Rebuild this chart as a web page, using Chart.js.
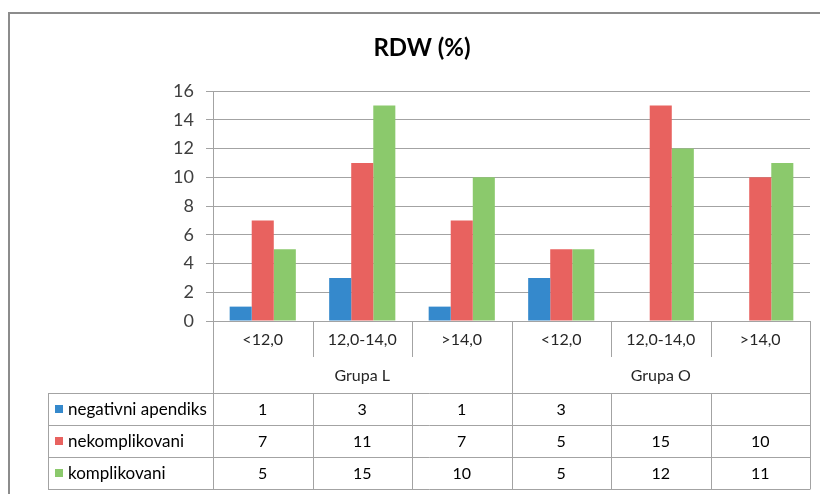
<!DOCTYPE html>
<html>
<head>
<meta charset="utf-8">
<title>RDW (%)</title>
<script src="https://cdn.jsdelivr.net/npm/chart.js@4/dist/chart.umd.min.js"></script>
<style>
  html, body { margin: 0; padding: 0; background: #fff; }
  #wrap { width: 820px; height: 494px; position: relative; }
</style>
</head>
<body>
<div id="wrap"><canvas id="c" width="820" height="494"></canvas></div>
<script>
// RDW ranges, grouped by patient group
const categories = ['<12,0', '12,0-14,0', '>14,0', '<12,0', '12,0-14,0', '>14,0'];
const groups = ['Grupa L', 'Grupa O'];
const groupSize = 3;

// Counts per series (null = no value)
const negativniApendiks = [1, 3, 1, 3, null, null];
const nekomplikovani = [7, 11, 7, 5, 15, 10];
const komplikovani = [5, 15, 10, 5, 12, 11];

const seriesNames = ['negativni apendiks', 'nekomplikovani', 'komplikovani'];
const seriesColors = ['#3589cc', '#e8625f', '#8bc96c'];

const yTicks = [0, 2, 4, 6, 8, 10, 12, 14, 16];
const chartTitle = 'RDW (%)';

const FONT = 'Lato, "Liberation Sans", sans-serif';
const LINE = '#a3a3a3';

// White page, the outer chart frame and the title centred in the frame
const framePlugin = {
  id: 'frame',
  beforeDraw(chart) {
    const ctx = chart.ctx;
    ctx.save();
    ctx.fillStyle = '#fff';
    ctx.fillRect(0, 0, chart.width, chart.height);
    ctx.strokeStyle = '#8c8c8c';
    ctx.lineWidth = 2;
    ctx.strokeRect(9, 13, chart.width + 20, chart.height + 20);
    ctx.fillStyle = '#000';
    ctx.font = 'bold 24px ' + FONT;
    ctx.textAlign = 'center';
    ctx.textBaseline = 'middle';
    ctx.fillText(chartTitle, 422, 48);
    ctx.restore();
  }
};

// Data table under the plot: category row, group row, then one row per series
const tablePlugin = {
  id: 'dataTable',
  afterDraw(chart) {
    const ctx = chart.ctx;
    const area = chart.chartArea;
    const xs = chart.scales.x;
    const n = categories.length;
    const bounds = [];
    for (let i = 0; i <= n; i++) {
      bounds.push(i === 0 ? area.left : i === n ? area.right : (xs.getPixelForValue(i - 1) + xs.getPixelForValue(i)) / 2);
    }
    const top = area.bottom;
    const catBottom = top + 36;
    const groupBottom = top + 72;
    const rowH = 32;
    const tableLeft = 48;

    const px = v => Math.round(v) + 0.5;
    ctx.save();
    ctx.strokeStyle = LINE;
    ctx.lineWidth = 1;

    // vertical separators in the category/group header
    for (let i = 0; i <= n; i++) {
      const isGroupEdge = i % groupSize === 0;
      ctx.beginPath();
      ctx.moveTo(px(bounds[i]), top);
      ctx.lineTo(px(bounds[i]), isGroupEdge ? groupBottom : catBottom);
      ctx.stroke();
    }

    // table grid
    const rows = seriesNames.length;
    for (let r = 0; r <= rows; r++) {
      const y = px(groupBottom + r * rowH);
      ctx.beginPath();
      ctx.moveTo(tableLeft, y);
      ctx.lineTo(px(area.right), y);
      ctx.stroke();
    }
    const colLines = [tableLeft].concat(bounds);
    colLines.forEach(x => {
      ctx.beginPath();
      ctx.moveTo(px(x), groupBottom);
      ctx.lineTo(px(x), groupBottom + rows * rowH);
      ctx.stroke();
    });

    ctx.textAlign = 'center';
    ctx.textBaseline = 'middle';

    // category labels
    ctx.fillStyle = '#262626';
    ctx.font = '16px ' + FONT;
    categories.forEach((c, i) => {
      ctx.fillText(c, (bounds[i] + bounds[i + 1]) / 2, (top + catBottom) / 2 + 1);
    });

    // group labels
    ctx.font = '16px ' + FONT;
    groups.forEach((g, gi) => {
      const l = bounds[gi * groupSize];
      const r = bounds[(gi + 1) * groupSize];
      ctx.fillText(g, (l + r) / 2, (catBottom + groupBottom) / 2 + 1);
    });

    // series rows
    const seriesData = [negativniApendiks, nekomplikovani, komplikovani];
    seriesNames.forEach((name, r) => {
      const cy = groupBottom + r * rowH + rowH / 2 + 1;
      ctx.fillStyle = seriesColors[r];
      ctx.fillRect(55, Math.round(cy - 5), 8, 8);
      ctx.fillStyle = '#000';
      ctx.textAlign = 'left';
      ctx.font = '17px ' + FONT;
      ctx.fillText(name, 68, cy);
      ctx.textAlign = 'center';
      ctx.font = '16px ' + FONT;
      seriesData[r].forEach((v, i) => {
        if (v !== null && v !== undefined) {
          ctx.fillText(String(v), (bounds[i] + bounds[i + 1]) / 2, cy);
        }
      });
    });
    ctx.restore();
  }
};

new Chart(document.getElementById('c'), {
  type: 'bar',
  data: {
    labels: categories,
    datasets: [
      { label: seriesNames[0], data: negativniApendiks, backgroundColor: seriesColors[0] },
      { label: seriesNames[1], data: nekomplikovani, backgroundColor: seriesColors[1] },
      { label: seriesNames[2], data: komplikovani, backgroundColor: seriesColors[2] }
    ]
  },
  options: {
    responsive: false,
    animation: false,
    devicePixelRatio: 1,
    layout: { padding: { left: 0, right: 10, top: 91, bottom: 173 } },
    datasets: { bar: { categoryPercentage: 0.665, barPercentage: 1, borderWidth: 0 } },
    plugins: {
      legend: { display: false },
      tooltip: { enabled: false },
      title: { display: false }
    },
    scales: {
      x: { display: false },
      y: {
        min: 0,
        max: 16,
        afterBuildTicks(scale) { scale.ticks = yTicks.map(v => ({ value: v })); },
        afterFit(scale) { scale.width = 213; },
        ticks: { color: '#404040', font: { family: FONT, size: 18 }, padding: 12 },
        grid: { color: LINE, lineWidth: 1, tickLength: 7, drawTicks: true },
        border: { display: true, color: LINE }
      }
    }
  },
  plugins: [framePlugin, tablePlugin]
});
</script>
</body>
</html>
